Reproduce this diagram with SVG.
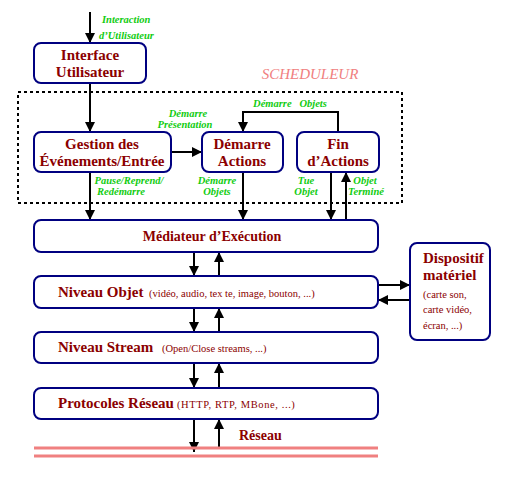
<svg xmlns="http://www.w3.org/2000/svg" width="521" height="486" viewBox="0 0 521 486">
<defs>
<marker id="ah" viewBox="0 0 10 10" refX="10" refY="5" markerWidth="5" markerHeight="5" markerUnits="strokeWidth" orient="auto">
<path d="M0,0 L10,5 L0,10 z" fill="#000"/>
</marker>
<style>
.box{fill:#fff;stroke:#000080;stroke-width:2}
.t{font-family:"Liberation Serif",serif;font-weight:bold;fill:#8b0000}
.big{font-size:15px}
.mid{font-size:14px}
.sm{font-family:"Liberation Serif",serif;font-size:10.5px;fill:#8b0000}
.g{font-family:"Liberation Serif",serif;font-style:italic;font-weight:bold;font-size:10.5px;fill:#11cc11}
.c{stroke:#000;stroke-width:2;fill:none}
.a{marker-end:url(#ah)}
</style>
</defs>
<rect width="521" height="486" fill="#fff"/>
<rect x="18" y="92" width="384" height="111" fill="none" stroke="#000" stroke-width="2" stroke-dasharray="3,3"/>
<text x="310" y="79" text-anchor="middle" font-family="Liberation Serif,serif" font-style="italic" font-size="15" fill="#f08080">SCHEDULEUR</text>
<g id="connectors">
<path class="c a" d="M90,12 V43"/>
<path class="c a" d="M90,83 V132"/>
<path class="c a" d="M171,152 H202"/>
<path class="c a" d="M338,132 V112 H243 V132"/>
<path class="c a" d="M90,172 V220"/>
<path class="c a" d="M243,172 V220"/>
<path class="c a" d="M331,172 V220"/>
<path class="c a" d="M346,220 V172"/>
<path class="c a" d="M194,252 V276"/>
<path class="c a" d="M219,276 V252"/>
<path class="c a" d="M194,308 V332"/>
<path class="c a" d="M219,332 V308"/>
<path class="c a" d="M194,363 V388"/>
<path class="c a" d="M219,388 V363"/>
<path class="c a" d="M194,419 V452"/>
<path class="c a" d="M219,448 V419"/>
<path class="c a" d="M378,285 H410"/>
<path class="c a" d="M410,300 H378"/>
</g>
<g id="labels">
<text class="g" x="102" y="23">Interaction</text>
<text class="g" x="99" y="39">d’Utilisateur</text>
<text class="g" x="188" y="117" text-anchor="middle">Démarre</text>
<text class="g" x="185" y="128" text-anchor="middle">Présentation</text>
<text class="g" x="290" y="107" text-anchor="middle" xml:space="preserve">Démarre   Objets</text>
<text class="g" x="129" y="184" text-anchor="middle">Pause/Reprend/</text>
<text class="g" x="121" y="195" text-anchor="middle">Redémarre</text>
<text class="g" x="217" y="184" text-anchor="middle">Démarre</text>
<text class="g" x="217" y="195" text-anchor="middle">Objets</text>
<text class="g" x="306" y="184" text-anchor="middle">Tue</text>
<text class="g" x="306" y="195" text-anchor="middle">Objet</text>
<text class="g" x="365" y="184" text-anchor="middle">Objet</text>
<text class="g" x="366" y="195" text-anchor="middle">Terminé</text>
</g>
<g id="interface">
<rect class="box" x="34" y="43" width="112" height="40" rx="7"/>
<text class="t big" x="90" y="60" text-anchor="middle">Interface</text>
<text class="t big" x="90" y="77" text-anchor="middle">Utilisateur</text>
</g>
<g id="gestion">
<rect class="box" x="34" y="132" width="137" height="40" rx="7"/>
<text class="t big" x="102" y="149" text-anchor="middle">Gestion des</text>
<text class="t big" x="102" y="166" text-anchor="middle">Événements/Entrée</text>
</g>
<g id="demarre">
<rect class="box" x="202" y="132" width="81" height="40" rx="7"/>
<text class="t big" x="242" y="149" text-anchor="middle">Démarre</text>
<text class="t big" x="242" y="166" text-anchor="middle">Actions</text>
</g>
<g id="fin">
<rect class="box" x="297" y="132" width="82" height="40" rx="7"/>
<text class="t big" x="338" y="149" text-anchor="middle">Fin</text>
<text class="t big" x="338" y="166" text-anchor="middle">d’Actions</text>
</g>
<g id="mediateur">
<rect class="box" x="34" y="220" width="344" height="32" rx="7"/>
<text class="t mid" x="212" y="241" text-anchor="middle">Médiateur d’Exécution</text>
</g>
<g id="objet">
<rect class="box" x="34" y="276" width="344" height="32" rx="7"/>
<text class="t big" x="58" y="297">Niveau Objet</text>
<text class="sm" x="149" y="297">(vidéo, audio, tex te, image, bouton, ...)</text>
</g>
<g id="stream">
<rect class="box" x="34" y="332" width="344" height="31" rx="7"/>
<text class="t big" x="58" y="352">Niveau Stream</text>
<text class="sm" x="162" y="352">(Open/Close streams, ...)</text>
</g>
<g id="protocoles">
<rect class="box" x="34" y="388" width="344" height="31" rx="7"/>
<text class="t big" x="58" y="408">Protocoles Réseau</text>
<text class="sm" x="177" y="408" letter-spacing="0.6">(HTTP, RTP, MBone, ...)</text>
</g>
<g id="reseau">
<line x1="34" y1="448" x2="378" y2="448" stroke="#f08080" stroke-width="3"/>
<line x1="34" y1="456" x2="378" y2="456" stroke="#f08080" stroke-width="3"/>
<text class="t mid" x="239" y="440">Réseau</text>
</g>
<g id="dispositif">
<rect class="box" x="410" y="243" width="80" height="97" rx="7"/>
<text class="t big" x="423" y="263">Dispositif</text>
<text class="t big" x="423" y="280">matériel</text>
<text class="sm" x="423" y="298">(carte son,</text>
<text class="sm" x="423" y="313">carte vidéo,</text>
<text class="sm" x="423" y="329">écran, ...)</text>
</g>
</svg>
